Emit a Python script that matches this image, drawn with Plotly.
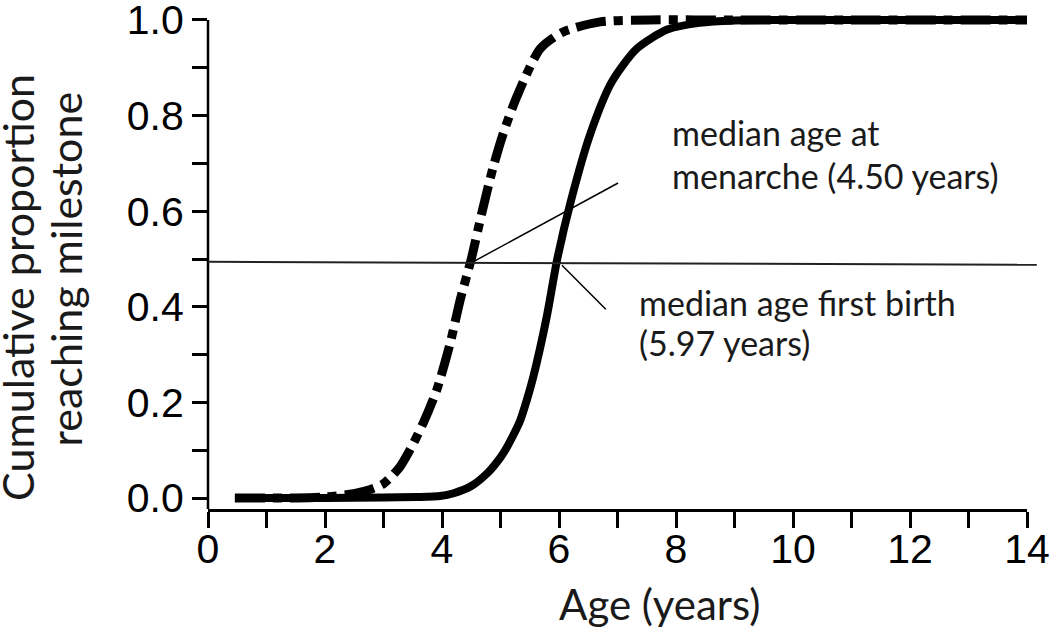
import plotly.graph_objects as go

# ---- data ----
age_menarche = [0.46, 1.0, 1.5, 2.0, 2.43, 2.7, 3.0, 3.28, 3.45, 3.68, 3.91, 4.14, 4.31, 4.5,
                4.68, 4.87, 5.04, 5.28, 5.68, 6.07, 6.7, 7.55, 9.0, 11.0, 14.0]
prop_menarche = [0.0, 0.0, 0.0, 0.002, 0.008, 0.015, 0.03, 0.065, 0.10, 0.157, 0.226, 0.324, 0.414, 0.5,
                 0.596, 0.69, 0.76, 0.84, 0.94, 0.975, 0.996, 1.0, 1.0, 1.0, 1.0]

age_birth = [0.46, 1.0, 2.0, 3.0, 3.57, 3.97, 4.2, 4.5, 4.8, 5.0, 5.1, 5.2, 5.33, 5.45, 5.56, 5.79, 5.97,
             6.2, 6.53, 6.9, 7.33, 7.85, 8.4, 9.0, 10.0, 12.0, 14.0]
prop_birth = [0.0, 0.0, 0.0, 0.001, 0.002, 0.004, 0.01, 0.025, 0.055, 0.085, 0.104, 0.127, 0.16, 0.205, 0.253, 0.379, 0.5,
              0.62, 0.76, 0.87, 0.94, 0.98, 0.994, 0.999, 1.0, 1.0, 1.0]

median_menarche = 4.50
median_birth = 5.97

x_tickvals = list(range(0, 15))
x_ticktext = [str(v) if v % 2 == 0 else "" for v in x_tickvals]
y_tickvals = [0.0, 0.1, 0.2, 0.3, 0.4, 0.5, 0.6, 0.7, 0.8, 0.9, 1.0]
y_ticktext = ["0.0", "", "0.2", "", "0.4", "", "0.6", "", "0.8", "", "1.0"]

label_menarche = ["median age at", "menarche (4.50 years)"]
label_birth = ["median age first birth", "(5.97 years)"]
x_title = "Age (years)"
y_title = ["Cumulative proportion", "reaching milestone"]

TICKFONT = "Liberation Sans, Arial, sans-serif"
TEXTFONT = "Lato, Open Sans, sans-serif"

fig = go.Figure()
fig.add_trace(go.Scatter(x=age_birth, y=prop_birth, mode="lines",
                         line=dict(color="black", width=8, shape="spline", smoothing=0.7),
                         showlegend=False, hoverinfo="skip"))
fig.add_trace(go.Scatter(x=age_menarche, y=prop_menarche, mode="lines",
                         line=dict(color="black", width=9, shape="spline", smoothing=0.7,
                                   dash="30px,8px,9px,8px"),
                         showlegend=False, hoverinfo="skip"))

shapes = [
    # y axis line
    dict(type="line", xref="paper", yref="y", x0=0, x1=0, y0=-0.023, y1=1.0,
         line=dict(color="black", width=2.5)),
    # horizontal 0.5 reference line
    dict(type="line", xref="paper", yref="y", x0=0, x1=1.012, y0=0.494, y1=0.488,
         line=dict(color="#222", width=2)),
    # pointers
    dict(type="line", xref="x", yref="y", x0=median_menarche + 0.03, y0=0.494, x1=7.01, y1=0.659,
         line=dict(color="black", width=1.5)),
    dict(type="line", xref="x", yref="y", x0=median_birth + 0.08, y0=0.487, x1=6.8, y1=0.395,
         line=dict(color="black", width=1.5)),
]

annotations = []
for i, t in enumerate(label_menarche):
    annotations.append(dict(x=7.9, y=[0.764, 0.674][i], xref="x", yref="y", text=t,
                            showarrow=False, xanchor="left", yanchor="middle",
                            font=dict(family=TEXTFONT, size=34, color="#1a1a1a")))
for i, t in enumerate(label_birth):
    annotations.append(dict(x=7.33, y=[0.408, 0.326][i], xref="x", yref="y", text=t,
                            showarrow=False, xanchor="left", yanchor="middle",
                            font=dict(family=TEXTFONT, size=34, color="#1a1a1a")))
annotations.append(dict(x=0.5507, y=-0.19, xref="paper", yref="paper", text=x_title,
                        showarrow=False, xanchor="center", yanchor="middle",
                        font=dict(family=TEXTFONT, size=42, color="#1a1a1a")))
annotations.append(dict(x=-0.232, y=0.445, xref="paper", yref="paper", text=y_title[0],
                        textangle=-90, showarrow=False, xanchor="center", yanchor="middle",
                        font=dict(family=TEXTFONT, size=43, color="#1a1a1a")))
annotations.append(dict(x=-0.174, y=0.481, xref="paper", yref="paper", text=y_title[1],
                        textangle=-90, showarrow=False, xanchor="center", yanchor="middle",
                        font=dict(family=TEXTFONT, size=43, color="#1a1a1a")))

fig.update_layout(
    width=1050, height=628,
    margin=dict(l=208, r=23, t=10, b=119, pad=0, autoexpand=False),
    paper_bgcolor="white", plot_bgcolor="white",
    shapes=shapes, annotations=annotations,
    xaxis=dict(range=[0, 14], tickvals=x_tickvals, ticktext=x_ticktext, automargin=False,
               ticks="outside", ticklen=16, tickwidth=2.5, tickcolor="black",
               showline=True, linecolor="black", linewidth=2.5,
               showgrid=False, zeroline=False, ticklabeloverflow="allow",
               ticklabelstandoff=-14,
               tickfont=dict(family=TICKFONT, size=41, color="black")),
    yaxis=dict(range=[-0.0230, 1.0209], tickvals=y_tickvals, ticktext=y_ticktext, automargin=False,
               ticks="outside", ticklen=15, tickwidth=2.5, tickcolor="black",
               showline=False, showgrid=False, zeroline=False, ticklabeloverflow="allow",
               tickfont=dict(family=TICKFONT, size=41, color="black")),
)

fig.write_html("out.html", config={"displayModeBar": False},
               post_script="document.body.style.margin='0';")
